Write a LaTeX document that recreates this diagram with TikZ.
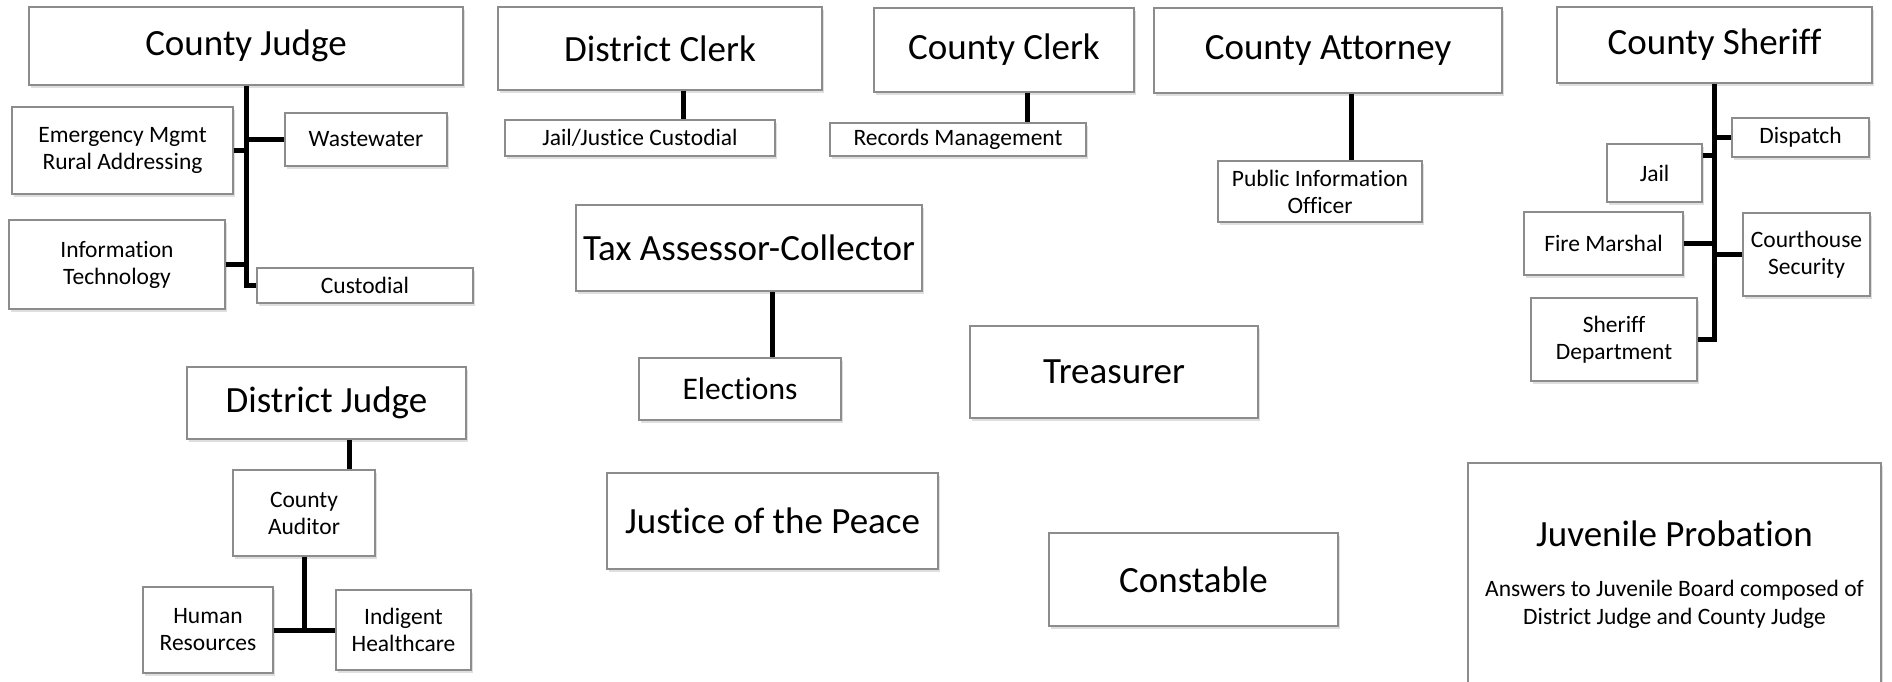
\documentclass[tikz,border=0pt]{standalone}
\usepackage{fontspec}
\setmainfont{Carlito}[Ligatures=NoCommon]
\usetikzlibrary{calc,shadows}

\begin{document}
\begin{tikzpicture}[x=1pt,y=-1pt,
	office/.style={draw=black!45,line width=1.2pt,fill=white,inner sep=2pt,
		drop shadow={shadow xshift=2pt,shadow yshift=-3pt,opacity=0.25},
		font=\fontsize{37}{44}\selectfont},
	unit/.style={office,font=\fontsize{23.5}{27}\selectfont,align=center},
	link/.style={line width=5pt}]
	
	\useasboundingbox (0,0) rectangle (1892,682);
	
	%%%%%%%%%%%%%%%%%%%%%%%%%%%%%%%%%%%%%%%%%%%%%%%%%%%%%%
	
	\node [office,minimum width=434pt,minimum height=78pt] (county-judge) at (246,46) {County Judge};
	\node [unit,minimum width=221pt,minimum height=87pt] (emergency-mgmt) at (122.5,150.5) {Emergency Mgmt\\Rural Addressing};
	\node [unit,minimum width=162pt,minimum height=53pt] (wastewater) at (366,139.5) {Wastewater};
	\node [unit,minimum width=216pt,minimum height=89pt] (information-technology) at (117,264.5) {Information\\Technology};
	\node [unit,minimum width=216pt,minimum height=35pt] (custodial) at (365,285.5) {Custodial};
	%
	\draw [link] (county-judge.south) |- (custodial.west);
	\draw [link] (emergency-mgmt.east) -- (emergency-mgmt.east -| county-judge.south);
	\draw [link] (wastewater.west) -- (wastewater.west -| county-judge.south);
	\draw [link] (information-technology.east) -- (information-technology.east -| county-judge.south);
	
	%%%%%%%%%%%%%%%%%%%%%%%%%%%%%%%%%%%%%%%%%%%%%%%%%%%%%%
	
	\node [office,minimum width=324pt,minimum height=83pt] (district-clerk) at (660,48.5) {District Clerk};
	\node [unit,minimum width=270pt,minimum height=36pt] (jail-custodial) at (640,138) {Jail/Justice Custodial};
	%
	\coordinate (district-clerk-link) at ($(district-clerk.south)+(23,0)$);
	\draw [link] (district-clerk-link) -- (district-clerk-link |- jail-custodial.north);
	
	%%%%%%%%%%%%%%%%%%%%%%%%%%%%%%%%%%%%%%%%%%%%%%%%%%%%%%
	
	\node [office,minimum width=260pt,minimum height=84pt] (county-clerk) at (1004,50) {County Clerk};
	\node [unit,minimum width=256pt,minimum height=33pt] (records-management) at (958,139.5) {Records Management};
	%
	\coordinate (county-clerk-link) at ($(county-clerk.south)+(23,0)$);
	\draw [link] (county-clerk-link) -- (county-clerk-link |- records-management.north);
	
	%%%%%%%%%%%%%%%%%%%%%%%%%%%%%%%%%%%%%%%%%%%%%%%%%%%%%%
	
	\node [office,minimum width=348pt,minimum height=85pt] (county-attorney) at (1328,50.5) {County Attorney};
	\node [unit,minimum width=204pt,minimum height=61pt] (public-information) at (1320,191.5) {Public Information\\Officer};
	%
	\coordinate (county-attorney-link) at ($(county-attorney.south)+(23,0)$);
	\draw [link] (county-attorney-link) -- (county-attorney-link |- public-information.north);
	
	%%%%%%%%%%%%%%%%%%%%%%%%%%%%%%%%%%%%%%%%%%%%%%%%%%%%%%
	
	\node [office,minimum width=315pt,minimum height=76pt] (county-sheriff) at (1714.5,45) {County Sheriff};
	\node [unit,minimum width=137pt,minimum height=39pt] (dispatch) at (1800.5,137.5) {Dispatch};
	\node [unit,minimum width=95pt,minimum height=58pt] (jail) at (1654.5,173) {Jail};
	\node [unit,minimum width=159pt,minimum height=63pt] (fire-marshal) at (1603.5,243.5) {Fire Marshal};
	\node [unit,minimum width=127pt,minimum height=83pt] (courthouse-security) at (1806.5,254.5) {Courthouse\\Security};
	\node [unit,minimum width=166pt,minimum height=83pt] (sheriff-department) at (1614,339.5) {Sheriff\\Department};
	%
	\coordinate (jail-link) at ($(jail.north east)!0.2!(jail.south east)$);
	\draw [link] (county-sheriff.south) |- (sheriff-department.east);
	\draw [link] (dispatch.west) -- (dispatch.west -| county-sheriff.south);
	\draw [link] (jail-link) -- (jail-link -| county-sheriff.south);
	\draw [link] (fire-marshal.east) -- (fire-marshal.east -| county-sheriff.south);
	\draw [link] (courthouse-security.west) -- (courthouse-security.west -| county-sheriff.south);
	
	%%%%%%%%%%%%%%%%%%%%%%%%%%%%%%%%%%%%%%%%%%%%%%%%%%%%%%
	
	\node [office,minimum width=346pt,minimum height=86pt] (tax-assessor) at (749,248) {Tax Assessor-Collector};
	\node [office,font=\fontsize{31.5}{38}\selectfont,minimum width=202pt,minimum height=62pt] (elections) at (740,389) {Elections};
	%
	\coordinate (tax-assessor-link) at ($(tax-assessor.south)+(23,0)$);
	\draw [link] (tax-assessor-link) -- (tax-assessor-link |- elections.north);
	
	%%%%%%%%%%%%%%%%%%%%%%%%%%%%%%%%%%%%%%%%%%%%%%%%%%%%%%
	
	\node [office,minimum width=279pt,minimum height=72pt] (district-judge) at (326.5,403) {District Judge};
	\node [unit,minimum width=142pt,minimum height=86pt] (county-auditor) at (304,513) {County\\Auditor};
	\node [unit,minimum width=130pt,minimum height=86pt] (human-resources) at (208,630) {Human\\Resources};
	\node [unit,minimum width=135pt,minimum height=80pt] (indigent-healthcare) at (403.5,630) {Indigent\\Healthcare};
	%
	\coordinate (district-judge-link) at ($(district-judge.south)+(22.5,0)$);
	\draw [link] (district-judge-link) -- (district-judge-link |- county-auditor.north);
	\draw [link] (human-resources.east) -- (indigent-healthcare.west);
	\draw [link] (county-auditor.south) -- (county-auditor.south |- human-resources.east);
	
	%%%%%%%%%%%%%%%%%%%%%%%%%%%%%%%%%%%%%%%%%%%%%%%%%%%%%%
	
	\node [office,minimum width=288pt,minimum height=92pt] (treasurer) at (1114,372) {Treasurer};
	\node [office,minimum width=331pt,minimum height=96pt] (justice-peace) at (772.5,521) {Justice of the Peace};
	\node [office,minimum width=289pt,minimum height=93pt] (constable) at (1193.5,579.5) {Constable};
	
	%%%%%%%%%%%%%%%%%%%%%%%%%%%%%%%%%%%%%%%%%%%%%%%%%%%%%%
	
	\node [office,align=center,font=\fontsize{23.5}{28}\selectfont,minimum width=413pt,minimum height=224pt] (juvenile-probation) at (1674.5,575)
		{\fontsize{37}{44}\selectfont Juvenile Probation\\[22pt]
		Answers to Juvenile Board composed of\\
		District Judge and County Judge};
	
	%%%%%%%%%%%%%%%%%%%%%%%%%%%%%%%%%%%%%%%%%%%%%%%%%%%%%%
	
\end{tikzpicture}
\end{document}
